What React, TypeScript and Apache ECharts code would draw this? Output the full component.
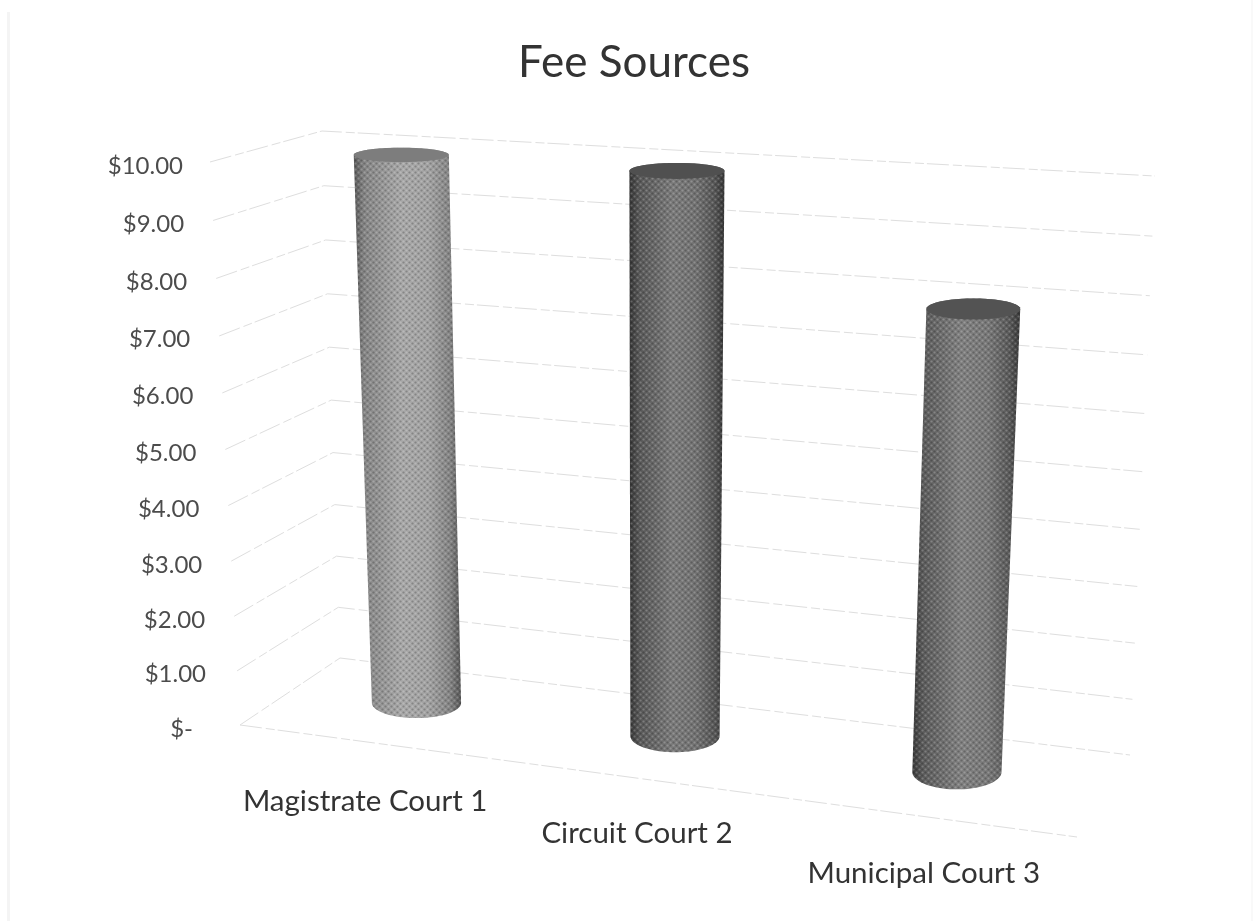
import React, { useEffect, useRef } from "react";
import * as echarts from "echarts";

const categories = ["Magistrate Court 1", "Circuit Court 2", "Municipal Court 3"];
const fees = [10, 10, 8];
const tickValues = [0, 1, 2, 3, 4, 5, 6, 7, 8, 9, 10];
const tickLabels = ["$-", "$1.00", "$2.00", "$3.00", "$4.00", "$5.00", "$6.00", "$7.00", "$8.00", "$9.00", "$10.00"];

const FONT = "Lato, 'Open Sans', sans-serif";
const W = 1257;
const H = 921;
const GRID = { left: 206, right: 1155, top: 165, bottom: 727 };

type P = [number, number];
const FLb: P = [240, 725], FRb: P = [1077, 837], BLb: P = [340, 658], BRb: P = [1130, 755];
const FLt: P = [210, 162], FRt: P = [1115, 218], BLt: P = [322, 131], BRt: P = [1155, 176];

const lerp = (a: P, b: P, t: number): P => [a[0] + (b[0] - a[0]) * t, a[1] + (b[1] - a[1]) * t];
function project(u: number, d: number, v: number): P {
  const w = v - 0.0425 * v * (1 - v);
  const bot = lerp(lerp(FLb, FRb, u), lerp(BLb, BRb, u), d);
  const top = lerp(lerp(FLt, FRt, u), lerp(BLt, BRt, u), d);
  return lerp(bot, top, w);
}

const BAR_DEPTH = 0.56, R_U = 0.055, R_D = 0.22, BAR_SCALE = 0.995;
const bodyStops = [
  [["#585858", 0], ["#868686", 0.1], ["#a8a8a8", 0.45], ["#a2a2a2", 0.7], ["#848484", 0.9], ["#565656", 1]],
  [["#343434", 0], ["#585858", 0.1], ["#7a7a7a", 0.45], ["#727272", 0.7], ["#565656", 0.9], ["#343434", 1]],
  [["#383838", 0], ["#5c5c5c", 0.1], ["#808080", 0.45], ["#787878", 0.7], ["#5a5a5a", 0.9], ["#383838", 1]],
];
const capColors = ["#7d7d7d", "#505050", "#535353"];

let tile: HTMLCanvasElement | null = null;
function getTile() {
  if (tile) return tile;
  const c = document.createElement("canvas");
  c.width = 6; c.height = 6;
  const g = c.getContext("2d")!;
  const dot = (x: number, y: number, col: string) => {
    g.fillStyle = col; g.beginPath(); g.arc(x, y, 1.1, 0, Math.PI * 2); g.fill();
  };
  dot(1.5, 1.5, "rgba(255,255,255,0.2)");
  dot(4.5, 4.5, "rgba(255,255,255,0.2)");
  dot(4.5, 1.5, "rgba(0,0,0,0.2)");
  dot(1.5, 4.5, "rgba(0,0,0,0.2)");
  tile = c;
  return c;
}

const yRich: any = {};
tickValues.forEach((v) => {
  const p = project(0, 0, v / 10);
  const linearY = GRID.bottom - ((GRID.bottom - GRID.top) * v) / 10;
  const dy = p[1] + 2 - linearY;
  const right = GRID.left - (p[0] - (v === 0 ? 47 : v === 10 ? 27 : 29));
  yRich["t" + v] = {
    fontFamily: FONT, fontSize: 24, color: "#4c4c4c",
    padding: [dy > 0 ? 2 * dy : 0, Math.max(0, right), dy < 0 ? -2 * dy : 0, 0],
  };
});
const xOffsets = [{ t: 57, dx: 1 }, { t: 89, dx: -43.5 }, { t: 129, dx: -73 }];
const xRich: any = {};
xOffsets.forEach((o, i) => {
  xRich["c" + i] = {
    fontFamily: FONT, fontSize: 29.5, color: "#333",
    padding: [o.t, o.dx < 0 ? -2 * o.dx : 0, 0, o.dx > 0 ? 2 * o.dx : 0],
  };
});

function renderGrid(params: any, api: any) {
  const c = api.coord([0, api.value(1)]);
  const cs = params.coordSys;
  const v = (cs.y + cs.height - c[1]) / cs.height;
  const lineStyle = { stroke: "#dedede", lineWidth: 1, fill: "none", lineDash: [22, 4, 9, 3] };
  const children: any[] = [
    { type: "polyline", shape: { points: [project(0, 0, v), project(0, 1, v), project(1, 1, v)] }, style: lineStyle },
  ];
  if (api.value(1) === 0) {
    children.push({ type: "line", shape: { x1: project(0, 0, 0)[0], y1: project(0, 0, 0)[1], x2: project(1, 0, 0)[0], y2: project(1, 0, 0)[1] }, style: lineStyle });
  }
  return { type: "group", children };
}

function renderBar(params: any, api: any) {
  const i = api.value(0);
  const c = api.coord([i, api.value(1)]);
  const cs = params.coordSys;
  const u0 = (c[0] - cs.x) / cs.width;
  const u = u0 - 0.13 * u0 * (1 - u0);
  const v = ((cs.y + cs.height - c[1]) / cs.height) * BAR_SCALE;
  const N = 40;
  const ring = (val: number, from: number, to: number) => {
    const ctr = project(u, BAR_DEPTH, val);
    const rx = (project(u + R_U, BAR_DEPTH, val)[0] - project(u - R_U, BAR_DEPTH, val)[0]) / 2;
    const ry = (project(u, BAR_DEPTH - R_D, val)[1] - project(u, BAR_DEPTH + R_D, val)[1]) / 2;
    const pts: P[] = [];
    for (let k = 0; k <= N; k++) {
      const t = from + ((to - from) * k) / N;
      pts.push([ctr[0] + rx * Math.cos(t), ctr[1] + ry * Math.sin(t)]);
    }
    return pts;
  };
  const body = [...ring(v, Math.PI, 2 * Math.PI), ...ring(0, 0, Math.PI)];
  const cap = ring(v, 0, 2 * Math.PI);
  const grad = new echarts.graphic.LinearGradient(
    0, 0, 1, 0,
    bodyStops[i].map((s) => ({ color: s[0] as string, offset: s[1] as number }))
  );
  const pattern = { image: getTile(), repeat: "repeat", imageWidth: 6, imageHeight: 6 };
  return {
    type: "group",
    children: [
      { type: "polygon", shape: { points: body }, style: { fill: grad } },
      { type: "polygon", shape: { points: body }, style: { fill: pattern } },
      { type: "polygon", shape: { points: cap }, style: { fill: capColors[i] } },
    ],
  };
}

export default function App() {
  const ref = useRef<HTMLDivElement>(null);
  useEffect(() => {
    const chart = echarts.init(ref.current!, null, { renderer: "svg" });
    chart.setOption({
      animation: false,
      backgroundColor: "#fff",
      title: {
        text: "Fee Sources", left: 629, top: 33, textAlign: "center",
        textStyle: { fontFamily: FONT, fontSize: 44, fontWeight: "normal", color: "#333" },
      },
      graphic: [
        { type: "rect", silent: true, shape: { x: 7, y: 12, width: 3, height: H - 12 }, style: { fill: "#f4f4f4" } },
        { type: "rect", silent: true, shape: { x: 1251, y: 0, width: 2, height: H }, style: { fill: "#f9f9f9" } },
      ],
      grid: { left: GRID.left, right: W - GRID.right, top: GRID.top, bottom: H - GRID.bottom },
      xAxis: {
        type: "category", data: categories,
        axisLine: { show: false }, axisTick: { show: false }, splitLine: { show: false },
        axisLabel: {
          interval: 0, margin: 0, hideOverlap: false,
          formatter: (s: string) => `{c${categories.indexOf(s)}|${s}}`, rich: xRich,
        },
      },
      yAxis: {
        type: "value", min: 0, max: 10, interval: 1,
        axisLine: { show: false }, axisTick: { show: false }, splitLine: { show: false },
        axisLabel: {
          margin: 0, align: "right", hideOverlap: false,
          formatter: (v: number) => `{t${v}|${tickLabels[tickValues.indexOf(v)]}}`, rich: yRich,
        },
      },
      series: [
        { type: "custom", silent: true, renderItem: renderGrid, encode: { x: 0, y: 1 }, data: tickValues.map((v) => [0, v]), z: 1 },
        { type: "custom", silent: true, renderItem: renderBar, encode: { x: 0, y: 1 }, data: fees.map((f, i) => [i, f]), z: 2 },
      ],
    });
    return () => chart.dispose();
  }, []);
  return (
    <div
      ref={ref}
      style={{ position: "absolute", left: 0, top: 0, width: W, height: H, filter: "blur(0.6px)" }}
    />
  );
}
